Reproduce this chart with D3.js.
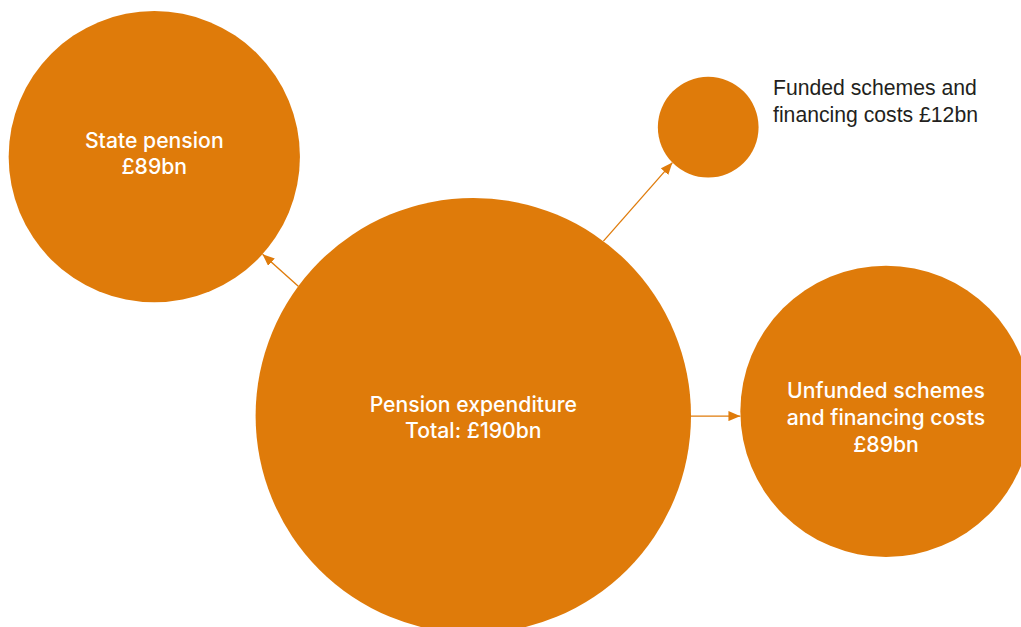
<!DOCTYPE html>
<meta charset="utf-8">
<style>
body { margin: 0; background: #fff; }
text { font-family: "Liberation Sans", Arial, sans-serif; }
text.inside { font-family: Inter, "Liberation Sans", sans-serif; font-weight: 500; }
</style>
<body>
<div id="chart"></div>
<script src="https://cdn.jsdelivr.net/npm/d3@7"></script>
<script>

// values in £bn
var names = ["total", "state", "funded", "unfunded"];
var labels = [
  ["Pension expenditure", "Total: £190bn"],
  ["State pension", "£89bn"],
  ["Funded schemes and", "financing costs £12bn"],
  ["Unfunded schemes", "and financing costs", "£89bn"]
];
var values = [190, 89, 12, 89];

// where each bubble sits, and where its label goes
var layout = {
  total:    { cx: 473.3, cy: 415.7, ty: 411.7, inside: true },
  state:    { cx: 154.3, cy: 156.7, ty: 147.7, inside: true },
  funded:   { cx: 708.2, cy: 127.2, ty: 95,    inside: false, tx: 773 },
  unfunded: { cx: 886,   cy: 411.3, ty: 398.3, inside: true }
};

// arrows leave the big bubble at one angle and land on the child at another
var arrows = [
  { target: "state",    a0: -143.5, a1: 42.0 },
  { target: "funded",   a0: -53.3,  a1: 135.3 },
  { target: "unfunded", a0: 0.1,    a1: 178.1 }
];

var width = 1021, height = 627,
    orange = "#df7b0a";

var r = d3.scalePow().exponent(0.53)
    .domain([0, d3.max(values)])
    .range([0, 217.7]);

var nodes = names.map(function(n, i) {
  return { name: n, value: values[i], lines: labels[i], pos: layout[n] };
});
var byName = {};
nodes.forEach(function(d) { byName[d.name] = d; });

var svg = d3.select("#chart").append("svg")
    .attr("width", width)
    .attr("height", height);

svg.append("defs").append("marker")
    .attr("id", "head")
    .attr("markerUnits", "userSpaceOnUse")
    .attr("viewBox", "0 0 12 10")
    .attr("refX", 12)
    .attr("refY", 5)
    .attr("markerWidth", 12)
    .attr("markerHeight", 10)
    .attr("orient", "auto")
  .append("path")
    .attr("d", "M0,0L12,5L0,10Z")
    .attr("fill", orange);

svg.selectAll("circle")
    .data(nodes)
  .enter().append("circle")
    .attr("cx", function(d) { return d.pos.cx; })
    .attr("cy", function(d) { return d.pos.cy; })
    .attr("r", function(d) { return r(d.value); })
    .attr("fill", orange);

function edge(d, deg) {
  var a = deg * Math.PI / 180, rr = r(d.value);
  return [d.pos.cx + rr * Math.cos(a), d.pos.cy + rr * Math.sin(a)];
}

var src = byName.total;
svg.selectAll(".arrow")
    .data(arrows)
  .enter().append("line")
    .attr("class", "arrow")
    .each(function(d) {
      var p0 = edge(src, d.a0), p1 = edge(byName[d.target], d.a1);
      d3.select(this)
          .attr("x1", p0[0]).attr("y1", p0[1])
          .attr("x2", p1[0]).attr("y2", p1[1]);
    })
    .attr("stroke", orange)
    .attr("stroke-width", 1.3)
    .attr("marker-end", "url(#head)");

var lh = 26.7;
var label = svg.selectAll(".label")
    .data(nodes)
  .enter().append("text")
    .attr("class", function(d) { return d.pos.inside ? "label inside" : "label"; })
    .attr("font-size", 21.2)
    .attr("fill", function(d) { return d.pos.inside ? "#fff" : "#231f20"; })
    .attr("text-anchor", function(d) { return d.pos.inside ? "middle" : "start"; });

label.selectAll("tspan")
    .data(function(d) {
      return d.lines.map(function(t, i) {
        return { t: t, x: d.pos.inside ? d.pos.cx : d.pos.tx, y: d.pos.ty + i * lh };
      });
    })
  .enter().append("tspan")
    .attr("x", function(d) { return d.x; })
    .attr("y", function(d) { return d.y; })
    .text(function(d) { return d.t; });

</script>
</body>
